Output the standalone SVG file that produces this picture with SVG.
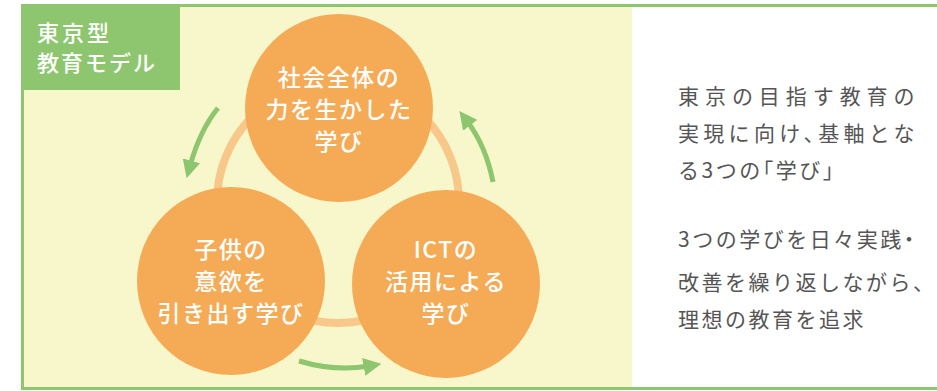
<svg xmlns="http://www.w3.org/2000/svg" width="937" height="391" viewBox="0 0 937 391">
<defs>
<style>
.node{fill:#f5ab55}
.nt{font-family:"Noto Sans CJK JP","Noto Sans",sans-serif;font-size:23px;font-weight:500;fill:#ffffff;text-anchor:middle;letter-spacing:1.5px}
.lt{font-family:"Noto Sans CJK JP","Noto Sans",sans-serif;font-size:22px;font-weight:500;fill:#ffffff}
.rt{font-family:"Noto Sans CJK JP","Noto Sans",sans-serif;font-size:21px;fill:#555555;letter-spacing:2.5px;font-feature-settings:"halt"}
.arr{fill:none;stroke:#8dc66f;stroke-width:5;marker-end:url(#ah)}
</style>
<marker id="ah" viewBox="0 0 10 10" refX="3" refY="5" markerWidth="18" markerHeight="18" markerUnits="userSpaceOnUse" orient="auto">
<path d="M0,0 L10,5 L0,10 z" fill="#8dc66f"/>
</marker>
</defs>
<rect x="0" y="0" width="937" height="391" fill="#ffffff"/>
<rect x="21" y="4" width="611" height="384" fill="#f8f6cb"/>
<g id="frame" fill="none" stroke="#8dc66f" stroke-width="3">
<path d="M937,5.5 H22.5 V388.5 H937"/>
</g>
<g id="label">
<rect x="21" y="4" width="159" height="86" fill="#8dc66f"/>
<text class="lt" x="37" y="41" letter-spacing="3">東京型</text>
<text class="lt" x="37" y="71" letter-spacing="2">教育モデル</text>
</g>
<circle cx="338" cy="202" r="121" fill="none" stroke="#f8c88a" stroke-width="8"/>
<g id="connectors">
<path class="arr" d="M218,108 Q200,130 190,166"/>
<path class="arr" d="M493,182 Q486,146 467,121"/>
<path class="arr" d="M299,361 Q336,372 369,366"/>
</g>
<g id="n-top">
<circle class="node" cx="339" cy="108" r="94"/>
<text class="nt" x="339" y="86">社会全体の</text>
<text class="nt" x="339" y="118">力を生かした</text>
<text class="nt" x="339" y="150">学び</text>
</g>
<g id="n-left">
<circle class="node" cx="231" cy="281" r="94"/>
<text class="nt" x="231" y="258">子供の</text>
<text class="nt" x="231" y="290">意欲を</text>
<text class="nt" x="231" y="322">引き出す学び</text>
</g>
<g id="n-right">
<circle class="node" cx="446" cy="284" r="94"/>
<text class="nt" x="446" y="258">ICTの</text>
<text class="nt" x="446" y="290">活用による</text>
<text class="nt" x="446" y="322">学び</text>
</g>
<g id="desc">
<text class="rt" x="678" y="104" textLength="239" lengthAdjust="spacing">東京の目指す教育の</text>
<text class="rt" x="678" y="141" textLength="239" lengthAdjust="spacing">実現に向け、基軸とな</text>
<text class="rt" x="678" y="178">る3つの「学び」</text>
<text class="rt" x="678" y="247" letter-spacing="2">3つの学びを日々実践・</text>
<text class="rt" x="678" y="290" letter-spacing="1.5">改善を繰り返しながら、</text>
<text class="rt" x="678" y="327" letter-spacing="3">理想の教育を追求</text>
</g>
</svg>
